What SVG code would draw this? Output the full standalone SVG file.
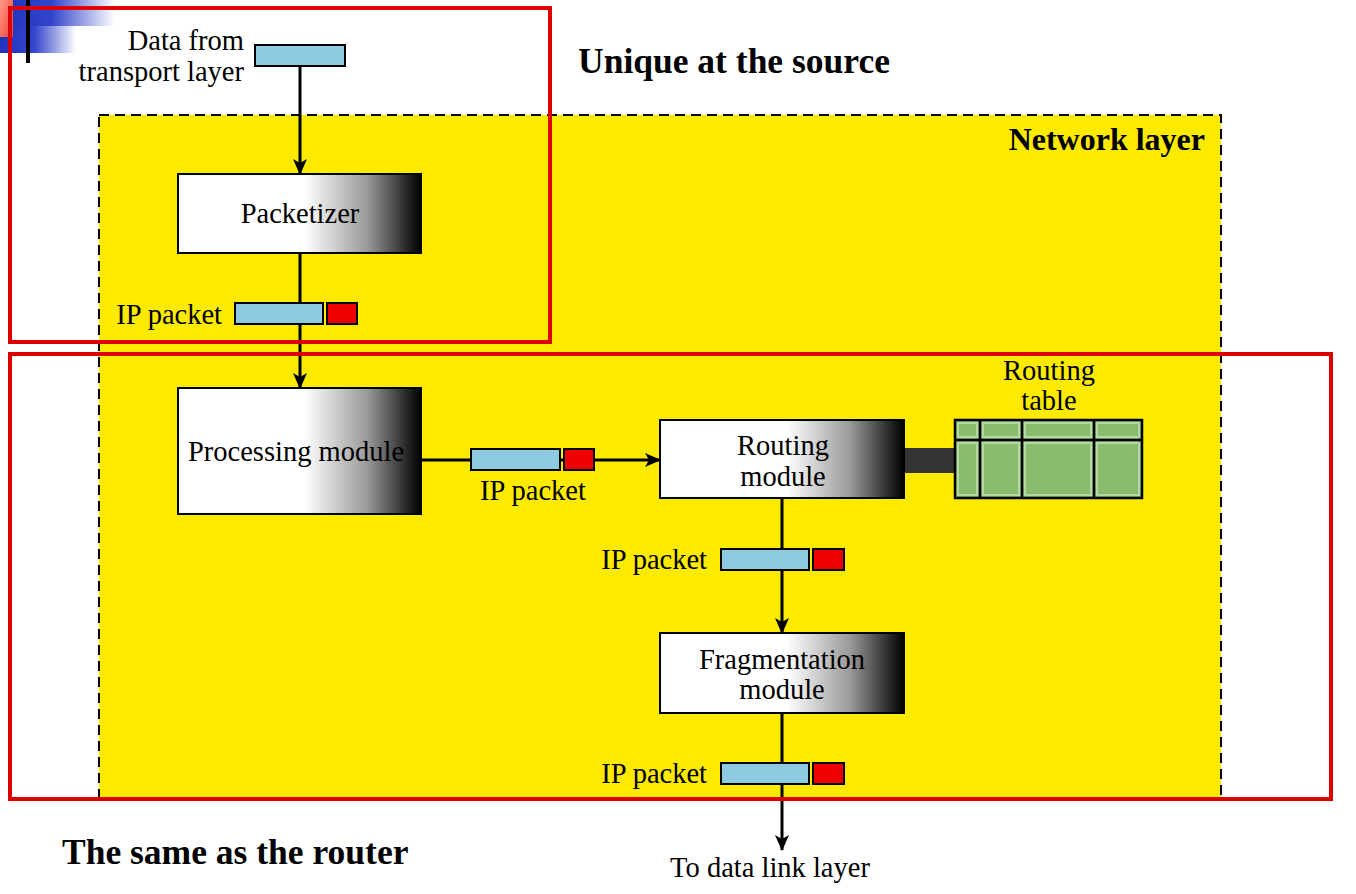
<svg xmlns="http://www.w3.org/2000/svg" width="1356" height="894" viewBox="0 0 1356 894">
<defs>
<style>
.t{font-family:"Liberation Serif","Times New Roman",serif;font-size:28.5px;fill:#000}
.b{font-family:"Liberation Serif","Times New Roman",serif;font-weight:bold;fill:#000}
.mod{fill:url(#modg);stroke:#000;stroke-width:2}
.pk{fill:#8ecae0;stroke:#000;stroke-width:2}
.hd{fill:#ee0000;stroke:#000;stroke-width:2}
.ln{stroke:#000;stroke-width:3;fill:none}
.red{fill:none;stroke:#dd0000;stroke-width:4}
</style>
<linearGradient id="modg" x1="0" y1="0" x2="1" y2="0">
<stop offset="0" stop-color="#fff"/>
<stop offset="0.52" stop-color="#fff"/>
<stop offset="0.78" stop-color="#999"/>
<stop offset="0.95" stop-color="#222"/>
<stop offset="1" stop-color="#000"/>
</linearGradient>
<linearGradient id="blueg" x1="0" y1="0" x2="1" y2="0">
<stop offset="0" stop-color="#2233bb"/>
<stop offset="0.45" stop-color="#3344cc"/>
<stop offset="1" stop-color="#ffffff"/>
</linearGradient>
<linearGradient id="redg" x1="0" y1="0" x2="1" y2="1">
<stop offset="0" stop-color="#ff9988"/>
<stop offset="1" stop-color="#ee4433"/>
</linearGradient>
<marker id="ah" viewBox="0 0 16 14" refX="15" refY="7" markerWidth="16" markerHeight="14" markerUnits="userSpaceOnUse" orient="auto">
<path d="M0,0 L16,7 L0,14 L4,7 Z" fill="#000"/>
</marker>
</defs>
<rect width="1356" height="894" fill="#fff"/>
<g id="decor">
<rect x="0" y="0" width="115" height="26" fill="url(#blueg)"/>
<rect x="0" y="26" width="76" height="27" fill="url(#blueg)"/>
<rect x="0" y="0" width="13" height="37" fill="url(#redg)"/>
<rect x="26" y="0" width="4" height="63" fill="#000"/>
</g>
<g id="network-layer">
<rect x="99" y="115" width="1122" height="684" fill="#fcea00" stroke="#000" stroke-width="2" stroke-dasharray="10,6"/>
<text class="b" x="1205" y="150" font-size="32" text-anchor="end">Network layer</text>
</g>
<g id="connectors">
<line class="ln" x1="300" y1="66" x2="300" y2="174" marker-end="url(#ah)"/>
<line class="ln" x1="300" y1="253" x2="300" y2="388" marker-end="url(#ah)"/>
<line class="ln" x1="421" y1="460" x2="660" y2="460" marker-end="url(#ah)"/>
<line class="ln" x1="782" y1="498" x2="782" y2="633" marker-end="url(#ah)"/>
<line class="ln" x1="782" y1="713" x2="782" y2="850" marker-end="url(#ah)"/>
<rect x="904" y="448" width="52" height="25" fill="#333"/>
</g>
<g id="data-transport">
<rect class="pk" x="255" y="45" width="90" height="21"/>
<text class="t" x="244" y="50" text-anchor="end">Data from</text>
<text class="t" x="244" y="81" text-anchor="end">transport layer</text>
</g>
<g id="packetizer">
<rect class="mod" x="178" y="174" width="243" height="79"/>
<text class="t" x="300" y="223" text-anchor="middle">Packetizer</text>
</g>
<g id="packet1">
<text class="t" x="222" y="324" text-anchor="end">IP packet</text>
<rect class="pk" x="235" y="303" width="88" height="21"/>
<rect class="hd" x="327" y="303" width="30" height="21"/>
</g>
<g id="processing">
<rect class="mod" x="178" y="388" width="243" height="126"/>
<text class="t" x="296" y="461" text-anchor="middle">Processing module</text>
</g>
<g id="packet2">
<rect class="pk" x="471" y="449" width="89" height="21"/>
<rect class="hd" x="564" y="449" width="30" height="21"/>
<text class="t" x="533" y="500" text-anchor="middle">IP packet</text>
</g>
<g id="routing">
<rect class="mod" x="660" y="420" width="244" height="78"/>
<text class="t" x="783" y="455" text-anchor="middle">Routing</text>
<text class="t" x="783" y="486" text-anchor="middle">module</text>
</g>
<g id="routing-table">
<text class="t" x="1049" y="380" text-anchor="middle">Routing</text>
<text class="t" x="1049" y="410" text-anchor="middle">table</text>
<rect x="955" y="420" width="187" height="78" fill="#8bbb6e" stroke="#000" stroke-width="2.5"/>
<g fill="none" stroke="#b5d9a5" stroke-width="2">
<rect x="958" y="423" width="19" height="14"/><rect x="983" y="423" width="36" height="14"/><rect x="1025" y="423" width="66" height="14"/><rect x="1097" y="423" width="42" height="14"/>
<rect x="958" y="443" width="19" height="52"/><rect x="983" y="443" width="36" height="52"/><rect x="1025" y="443" width="66" height="52"/><rect x="1097" y="443" width="42" height="52"/>
</g>
<g stroke="#000" stroke-width="2.5">
<line x1="955" y1="440" x2="1142" y2="440"/>
<line x1="980" y1="420" x2="980" y2="498"/>
<line x1="1022" y1="420" x2="1022" y2="498"/>
<line x1="1094" y1="420" x2="1094" y2="498"/>
</g>
</g>
<g id="packet3">
<text class="t" x="707" y="569" text-anchor="end">IP packet</text>
<rect class="pk" x="721" y="549" width="88" height="21"/>
<rect class="hd" x="813" y="549" width="31" height="21"/>
</g>
<g id="fragmentation">
<rect class="mod" x="660" y="633" width="244" height="80"/>
<text class="t" x="782" y="669" text-anchor="middle">Fragmentation</text>
<text class="t" x="782" y="699" text-anchor="middle">module</text>
</g>
<g id="packet4">
<text class="t" x="707" y="783" text-anchor="end">IP packet</text>
<rect class="pk" x="721" y="763" width="88" height="21"/>
<rect class="hd" x="813" y="763" width="31" height="21"/>
</g>
<g id="labels">
<text class="t" x="770" y="877" text-anchor="middle">To data link layer</text>
<text class="b" x="578" y="73" font-size="35.5">Unique at the source</text>
<text class="b" x="62" y="864" font-size="35.5">The same as the router</text>
</g>
<g id="regions">
<rect class="red" x="10" y="8" width="540" height="334"/>
<rect class="red" x="10" y="354" width="1321" height="445"/>
</g>
</svg>
